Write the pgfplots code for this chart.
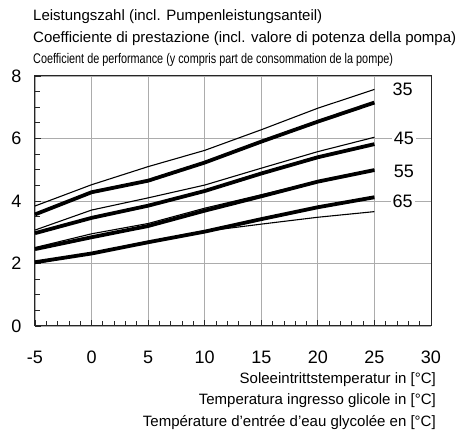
\documentclass[border=0pt]{standalone}
\usepackage{pgfplots}
\pgfplotsset{compat=1.18}
\usepackage{fontspec}
\setmainfont{Liberation Sans}
\begin{document}
\begin{tikzpicture}
\path[use as bounding box] (-35pt,-104pt) rectangle (423pt,326pt);
\begin{axis}[
  at={(0pt,0pt)}, anchor=south west,
  scale only axis, width=396pt, height=250pt,
  xmin=-5, xmax=30, ymin=0, ymax=8,
  xtick={-5,0,...,30}, ytick={0,2,...,8},
  minor x tick num=4, minor y tick num=3,
  tick pos=left, tick align=inside,
  major tick length=6pt, minor tick length=5pt,
  grid=major, major grid style={gray!65, line width=0.9pt},
  axis line style={black!85, line width=1pt},
  every tick/.style={black!85, line width=0.8pt},
  ticklabel style={font=\fontsize{18}{21}\selectfont},
  xticklabel style={anchor=base, yshift=-37.3pt},
  yticklabel style={anchor=east, xshift=-10pt},
  /pgf/number format/assume math mode=true,
  clip=false,
]
% thin lines
\addplot[black, line width=1.1pt] coordinates {(-5,3.84) (0,4.52) (5,5.10) (10,5.62) (15,6.28) (20,6.97) (25,7.57)};
\addplot[black, line width=1.1pt] coordinates {(-5,3.07) (0,3.71) (5,4.10) (10,4.51) (15,5.05) (20,5.58) (25,6.04)};
\addplot[black, line width=1.1pt] coordinates {(-5,2.51) (0,2.95) (5,3.28) (10,3.77) (15,4.20) (20,4.63) (25,5.00)};
\addplot[black, line width=1.1pt] coordinates {(-5,2.00) (0,2.32) (5,2.66) (10,3.03) (15,3.26) (20,3.48) (25,3.66)};
% thick lines
\addplot[black, line width=3.8pt] coordinates {(-5,3.57) (0,4.28) (5,4.65) (10,5.23) (15,5.90) (20,6.54) (25,7.15)};
\addplot[black, line width=3.8pt] coordinates {(-5,2.97) (0,3.46) (5,3.85) (10,4.32) (15,4.88) (20,5.40) (25,5.82)};
\addplot[black, line width=3.8pt] coordinates {(-5,2.46) (0,2.84) (5,3.20) (10,3.69) (15,4.15) (20,4.62) (25,4.99)};
\addplot[black, line width=3.8pt] coordinates {(-5,2.04) (0,2.32) (5,2.68) (10,3.02) (15,3.42) (20,3.80) (25,4.12)};
\begin{scope}[every node/.style={font=\fontsize{18}{21}\selectfont, fill=white, inner sep=2pt}]
\node at (axis cs:27.5,7.58) {35};
\node at (axis cs:27.6,6.0) {45};
\node at (axis cs:27.6,4.96) {55};
\node at (axis cs:27.5,4.0) {65};
\end{scope}
\end{axis}
\node[anchor=base west, inner sep=0pt, font=\fontsize{15}{18}\selectfont] at (-2pt,305.3pt) {Leistungszahl (incl. Pumpenleistungsanteil)};
\node[anchor=base west, inner sep=0pt, font=\fontsize{15}{18}\selectfont] at (-2pt,283.3pt) {Coefficiente di prestazione (incl. valore di potenza della pompa)};
\node[anchor=base west, inner sep=0pt, font=\fontsize{14}{17}\selectfont] at (-2pt,262.7pt) {\scalebox{0.775}[1]{Coefficient de performance (y compris part de consommation de la pompe)}};
\node[anchor=base east, inner sep=0pt, font=\fontsize{15}{18}\selectfont] at (401pt,-57.3pt) {Soleeintrittstemperatur in [°C]};
\node[anchor=base east, inner sep=0pt, font=\fontsize{15}{18}\selectfont] at (401pt,-79pt) {Temperatura ingresso glicole in [°C]};
\node[anchor=base east, inner sep=0pt, font=\fontsize{15}{18}\selectfont] at (401pt,-100.7pt) {Température d'entrée d'eau glycolée en [°C]};
\end{tikzpicture}
\end{document}
